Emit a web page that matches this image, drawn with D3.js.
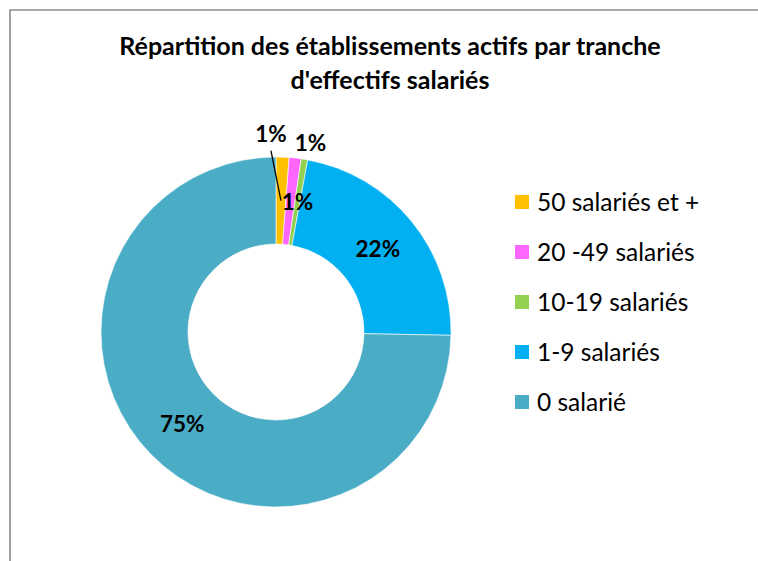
<!DOCTYPE html>
<html>
<head>
<meta charset="utf-8">
<script src="https://cdn.jsdelivr.net/npm/d3@7"></script>
<style>
  html, body { margin: 0; padding: 0; background: #fff; }
  svg { display: block; }
</style>
</head>
<body>
<svg id="chart" width="758" height="561"></svg>
<script>
// Établissements actifs par tranche d'effectifs salariés (part en %)
const categories = ["50 salariés et +", "20 -49 salariés", "10-19 salariés", "1-9 salariés", "0 salarié"];
const shares = [1.2, 1.1, 0.6, 22.4, 74.7];
const colors = ["#FFC000", "#FF66FF", "#92D050", "#00B0F0", "#4BACC6"];
const titleLines = ["Répartition des établissements actifs par tranche", "d'effectifs salariés"];

const W = 758, H = 561;
const svg = d3.select("#chart");
const FONT = "Lato, 'Open Sans', sans-serif";

// chart area frame
svg.append("path")
  .attr("d", `M10,${H} L10,10 L${W},10`)
  .attr("fill", "none")
  .attr("stroke", "#8c8c8c")
  .attr("stroke-width", 1.6);

// title
svg.append("g").selectAll("text")
  .data(titleLines)
  .join("text")
  .attr("x", 390)
  .attr("y", (d, i) => 55 + i * 34)
  .attr("text-anchor", "middle")
  .attr("font-family", FONT)
  .attr("font-weight", "bold")
  .attr("font-size", 25)
  .attr("fill", "#000")
  .text(d => d);

// donut
const cx = 276, cy = 332, R = 175, r0 = 88;
const data = categories.map((c, i) => ({ cat: c, value: shares[i], color: colors[i] }));
const pie = d3.pie().value(d => d.value).sort(null);
const arcs = pie(data);
const arc = d3.arc().innerRadius(r0).outerRadius(R);

const g = svg.append("g").attr("transform", `translate(${cx},${cy})`);
g.selectAll("path")
  .data(arcs)
  .join("path")
  .attr("d", arc)
  .attr("fill", d => d.data.color)
  .attr("stroke", "#fff")
  .attr("stroke-width", 0.6);

// data labels: centred on the slice; two small ones moved outwards,
// the first keeping a leader line back to its slice
const labelShift = [[-10, -66], [20, -58], [0, 0], [0, 0], [0, 0]];
const withLeader = [true, false, false, false, false];
const fmt = v => Math.round(v) + "%";
arcs.forEach((a, i) => {
  const [x0, y0] = arc.centroid(a);
  const [dx, dy] = labelShift[i];
  const lx = x0 + dx, ly = y0 + dy;
  if (withLeader[i]) {
    g.append("line")
      .attr("x1", lx).attr("y1", ly + 16)
      .attr("x2", x0).attr("y2", y0)
      .attr("stroke", "#000")
      .attr("stroke-width", 1.3);
  }
  g.append("text")
    .attr("x", lx)
    .attr("y", ly)
    .attr("dy", "0.35em")
    .attr("text-anchor", "middle")
    .attr("font-family", FONT)
    .attr("font-weight", "bold")
    .attr("font-size", 22.5)
    .attr("fill", "#000")
    .text(fmt(a.data.value));
});

// legend
const lg = svg.append("g").attr("transform", "translate(515,202)");
const item = lg.selectAll("g")
  .data(data)
  .join("g")
  .attr("transform", (d, i) => `translate(0,${i * 50})`);
item.append("rect")
  .attr("x", 0).attr("y", -7)
  .attr("width", 14).attr("height", 14)
  .attr("fill", d => d.color);
item.append("text")
  .attr("x", 22)
  .attr("y", 0)
  .attr("dy", "0.35em")
  .attr("font-family", FONT)
  .attr("font-size", 24.5)
  .attr("fill", "#000")
  .text(d => d.cat);
</script>
</body>
</html>
